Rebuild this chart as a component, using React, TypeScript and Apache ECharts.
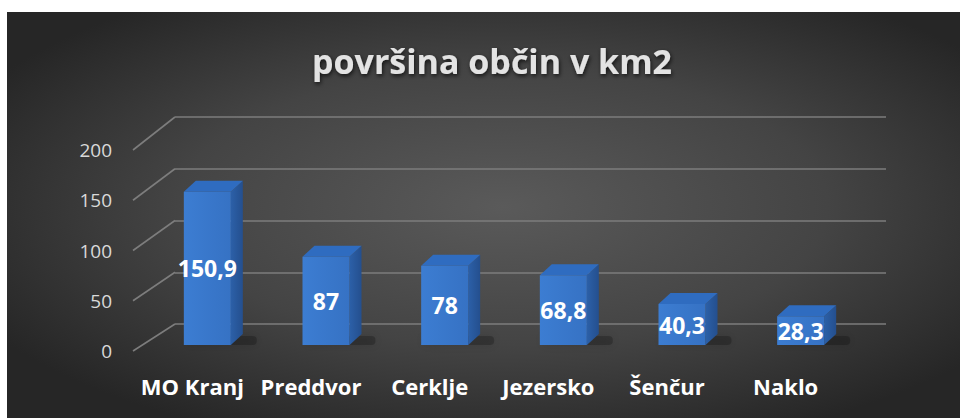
import React, { useEffect, useRef } from "react";
import * as echarts from "echarts";

const titleText = "površina občin v km2";
const categories = ["MO Kranj", "Preddvor", "Cerklje", "Jezersko", "Šenčur", "Naklo"];
const values = [150.9, 87, 78, 68.8, 40.3, 28.3];
const yTicks = [0, 50, 100, 150, 200];

const FONT = '"Open Sans", "Noto Sans", sans-serif';

export default function App() {
  const ref = useRef<HTMLDivElement>(null);

  useEffect(() => {
    if (!ref.current) return;
    const chart = echarts.init(ref.current, undefined, { renderer: "svg" });

    // geometry of the pseudo-3D scene
    const backGrid = { left: 175, right: 74, top: 117, bottom: 94 };
    const frontGrid = { left: 133, right: 74, top: 150, bottom: 67 };
    const H = 418;
    const backTop = backGrid.top, backH = H - backGrid.top - backGrid.bottom;
    const frontTop = frontGrid.top, frontH = H - frontGrid.top - frontGrid.bottom;

    const option: any = {
      animation: false,
      backgroundColor: "transparent",
      title: {
        text: titleText,
        left: 487,
        top: 39,
        textAlign: "center",
        textStyle: {
          fontFamily: FONT,
          fontWeight: "bold",
          fontSize: 34,
          color: "#e3e3e3",
          textShadowColor: "rgba(0,0,0,0.7)",
          textShadowBlur: 4,
          textShadowOffsetX: 1,
          textShadowOffsetY: 2,
        },
      },
      graphic: [
        {
          type: "rect",
          z: -100,
          silent: true,
          shape: { x: 7, y: 12, width: 953, height: 406 },
          style: {
            fill: new echarts.graphic.RadialGradient(0.52, 0.48, 0.62, [
              { offset: 0, color: "#5a5a5a" },
              { offset: 0.55, color: "#444444" },
              { offset: 1, color: "#262626" },
            ]),
          },
        },
      ],
      grid: [
        { left: 148, right: 100, top: 142, bottom: 73 },
        backGrid,
        frontGrid,
      ],
      xAxis: [
        {
          gridIndex: 0,
          type: "category",
          data: categories,
          axisLine: { show: false },
          axisTick: { show: false },
          splitLine: { show: false },
          axisLabel: {
            interval: 0,
            margin: 30,
            color: "#ffffff",
            fontFamily: FONT,
            fontWeight: "bold",
            fontSize: 22,
            padding: [0, 30, 0, 0],
          },
        },
        { gridIndex: 1, type: "category", data: categories, show: false },
        { gridIndex: 2, type: "category", data: categories, show: false },
      ],
      yAxis: [
        { gridIndex: 0, type: "value", min: 0, max: 200, interval: 50, show: false },
        {
          gridIndex: 1,
          type: "value",
          min: 0,
          max: 200,
          interval: 50,
          axisLine: { show: false },
          axisTick: { show: false },
          axisLabel: { show: false },
          splitLine: { show: true, lineStyle: { color: "#7d7d7d", width: 1.6 } },
        },
        {
          gridIndex: 2,
          type: "value",
          min: 0,
          max: 200,
          interval: 50,
          axisLine: { show: false },
          axisTick: { show: false },
          splitLine: { show: false },
          axisLabel: {
            margin: 21,
            color: "#d9d9d9",
            fontFamily: FONT,
            fontSize: 19,
          },
        },
      ],
      series: [
        {
          type: "custom",
          xAxisIndex: 1,
          yAxisIndex: 1,
          silent: true,
          data: yTicks.map((v) => [0, v]),
          encode: { x: 0, y: 1 },
          renderItem: (params: any, api: any) => {
            const cs = params.coordSys;
            const v = api.value(1);
            const by = api.coord([0, v])[1];
            const fy = frontTop + ((by - backTop) / backH) * frontH;
            return {
              type: "line",
              shape: { x1: frontGrid.left, y1: fy, x2: cs.x, y2: by },
              style: { stroke: "#7d7d7d", lineWidth: 1.6 },
            };
          },
        },
        {
          type: "custom",
          xAxisIndex: 0,
          yAxisIndex: 0,
          silent: true,
          data: values.map((v, i) => [i, v]),
          encode: { x: 0, y: 1 },
          renderItem: (params: any, api: any) => {
            const i = api.value(0);
            const v = api.value(1);
            const top = api.coord([i, v]);
            const base = api.coord([i, 0]);
            const w = 47;
            const x0 = top[0] - w / 2;
            const x1 = top[0] + w / 2;
            const yt = top[1];
            const yb = base[1];
            const dx = 12;
            const dy = 11;
            const label = String(v).replace(".", ",");
            return {
              type: "group",
              children: [
                {
                  type: "rect",
                  shape: { x: x0 + 2, y: yb - 9, width: w + 24, height: 9, r: 4 },
                  style: {
                    fill: "rgba(0,0,0,0.22)",
                    shadowColor: "rgba(0,0,0,0.55)",
                    shadowBlur: 10,
                  },
                },
                {
                  type: "polygon",
                  shape: {
                    points: [
                      [x1, yt],
                      [x1 + dx, yt - dy],
                      [x1 + dx, yb - dy],
                      [x1, yb],
                    ],
                  },
                  style: {
                    fill: new echarts.graphic.LinearGradient(0, 0, 1, 0, [
                      { offset: 0, color: "#2c60a8" },
                      { offset: 1, color: "#244f8e" },
                    ]),
                  },
                },
                {
                  type: "polygon",
                  shape: {
                    points: [
                      [x0, yt],
                      [x0 + dx, yt - dy],
                      [x1 + dx, yt - dy],
                      [x1, yt],
                    ],
                  },
                  style: { fill: "#2f6cc0" },
                },
                {
                  type: "rect",
                  shape: { x: x0, y: yt, width: w, height: yb - yt },
                  style: {
                    fill: new echarts.graphic.LinearGradient(0, 0, 1, 0, [
                      { offset: 0, color: "#3c7dd2" },
                      { offset: 1, color: "#3672c4" },
                    ]),
                  },
                },
                {
                  type: "text",
                  x: top[0],
                  y: (yt + yb) / 2,
                  style: {
                    text: label,
                    fill: "#ffffff",
                    font: `bold 23px ${FONT}`,
                    align: "center",
                    verticalAlign: "middle",
                  },
                },
              ],
            };
          },
        },
      ],
    };

    chart.setOption(option);
    return () => chart.dispose();
  }, []);

  return (
    <div
      ref={ref}
      style={{ position: "absolute", left: 0, top: 0, width: 960, height: 418, background: "#ffffff" }}
    />
  );
}
